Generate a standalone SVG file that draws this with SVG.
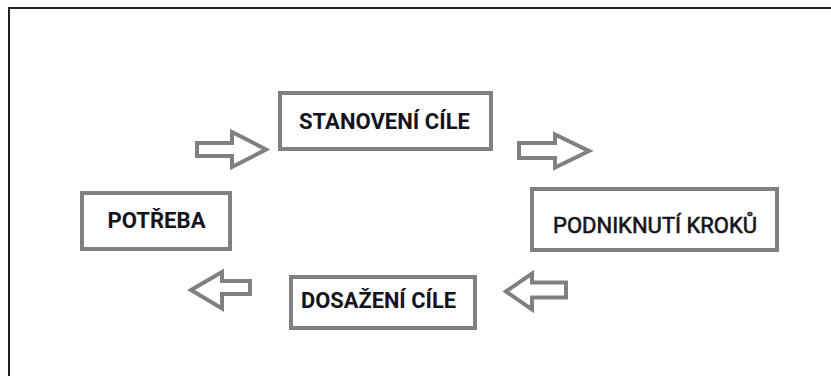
<svg xmlns="http://www.w3.org/2000/svg" width="831" height="376" viewBox="0 0 831 376">
  <style>
    .box { fill: #ffffff; stroke: #808080; stroke-width: 4; }
    .arrow { fill: #ffffff; stroke: #808080; stroke-width: 4; stroke-linejoin: miter; stroke-miterlimit: 10; }
    .label { font-family: Roboto, "Liberation Sans", sans-serif; font-size: 22px; font-weight: bold; fill: #141420; }
    .label.medium { font-weight: normal; stroke: #141420; stroke-width: 0.6; }
    .frame { stroke: #222222; stroke-width: 2; fill: none; }
  </style>
  <rect width="831" height="376" fill="#ffffff"/>
  <!-- outer frame: top and left edges -->
  <path class="frame" d="M9,376 V8 H831"/>

  <g id="stanoveni-cile">
    <rect class="box" x="280" y="93" width="211" height="56"/>
    <text class="label" x="299" y="128.5" textLength="171" lengthAdjust="spacingAndGlyphs">STANOVENÍ CÍLE</text>
  </g>

  <g id="podniknuti-kroku">
    <rect class="box" x="532" y="189" width="245" height="61"/>
    <text class="label medium" x="553" y="233" textLength="204" lengthAdjust="spacingAndGlyphs">PODNIKNUTÍ KROKŮ</text>
  </g>

  <g id="potreba">
    <rect class="box" x="82" y="193" width="148" height="56"/>
    <text class="label" x="107.5" y="227.7" textLength="98" lengthAdjust="spacingAndGlyphs">POTŘEBA</text>
  </g>

  <g id="dosazeni-cile">
    <rect class="box" x="291" y="277" width="184" height="51"/>
    <text class="label" x="301" y="307.7" textLength="155" lengthAdjust="spacingAndGlyphs">DOSAŽENÍ CÍLE</text>
  </g>

  <g id="connectors">
    <path class="arrow" d="M197,143 H232 V132 L266,149.5 L232,167 V156 H197 Z"/>
    <path class="arrow" d="M519,143 H555 V134.5 L589,151 L555,167.5 V158 H519 Z"/>
    <path class="arrow" d="M191,290 L222,272 V281 H250 V294 H222 V308.5 Z"/>
    <path class="arrow" d="M506,291.5 L532,273.5 V282.5 H566 V297.5 H532 V309.5 Z"/>
  </g>
</svg>
